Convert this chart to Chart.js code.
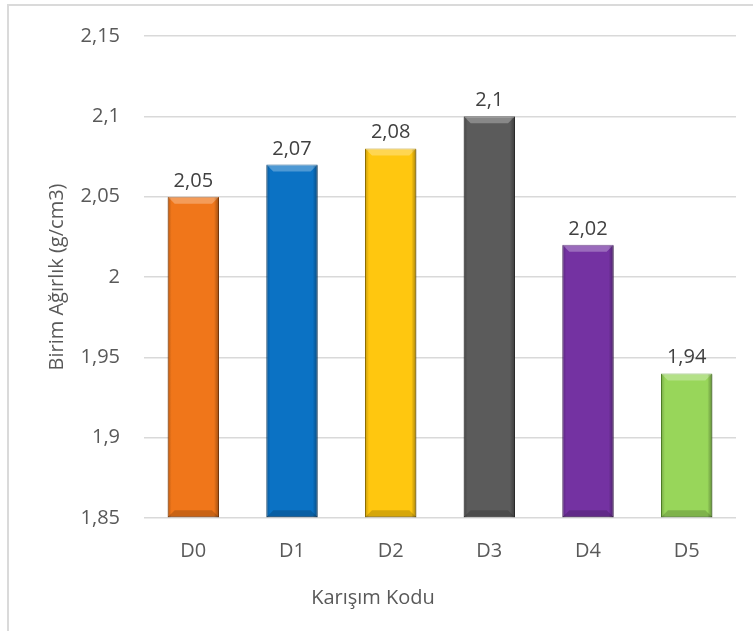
<!DOCTYPE html>
<html>
<head>
<meta charset="utf-8">
<script src="https://cdn.jsdelivr.net/npm/chart.js@4"></script>
<style>
  html, body { margin: 0; padding: 0; background: #fff; overflow: hidden; }
  #frame { position: absolute; left: 7px; top: 4px; width: 800px; height: 700px; border: 2px solid #dadada; }
  #chart { position: absolute; left: 0; top: 0; }
</style>
</head>
<body>
<div id="frame"></div>
<canvas id="chart" width="753" height="631"></canvas>
<script>
// mix codes and unit weights
const codes = ['D0', 'D1', 'D2', 'D3', 'D4', 'D5'];
const weights = [2.05, 2.07, 2.08, 2.10, 2.02, 1.94];
const barColors = ['#F0761A', '#0B72C4', '#FFC70F', '#5B5B5B', '#7432A2', '#98D65A'];
const edgeColors = ['#A84E0C', '#06497F', '#B08700', '#3A3A3A', '#4B1E6B', '#5E9A2C'];
const yMin = 1.85, yMax = 2.15, yStep = 0.05;

const textColor = '#595959';
const fontFamily = "'Open Sans', sans-serif";
const comma = v => Number(v.toFixed(2)).toString().replace('.', ',');

// bevel shading on top of each bar
const bevel = {
  id: 'bevel',
  afterDatasetsDraw(chart) {
    const ctx = chart.ctx;
    chart.getDatasetMeta(0).data.forEach(bar => {
      const l = bar.x - bar.width / 2, r = bar.x + bar.width / 2;
      const t = bar.y, b = Math.min(bar.base, chart.chartArea.bottom), d = 7;
      ctx.save();
      // top face
      ctx.fillStyle = 'rgba(255,255,255,0.28)';
      ctx.beginPath();
      ctx.moveTo(l, t); ctx.lineTo(r, t); ctx.lineTo(r - d, t + d); ctx.lineTo(l + d, t + d);
      ctx.closePath(); ctx.fill();
      // bottom face
      ctx.fillStyle = 'rgba(0,0,0,0.16)';
      ctx.beginPath();
      ctx.moveTo(l, b); ctx.lineTo(r, b); ctx.lineTo(r - d, b - d); ctx.lineTo(l + d, b - d);
      ctx.closePath(); ctx.fill();
      // side faces
      let g = ctx.createLinearGradient(l, 0, l + 4, 0);
      g.addColorStop(0, 'rgba(0,0,0,0.22)'); g.addColorStop(1, 'rgba(0,0,0,0)');
      ctx.fillStyle = g; ctx.fillRect(l, t + 1, 4, b - t - 1);
      g = ctx.createLinearGradient(r, 0, r - 5, 0);
      g.addColorStop(0, 'rgba(0,0,0,0.35)'); g.addColorStop(1, 'rgba(0,0,0,0)');
      ctx.fillStyle = g; ctx.fillRect(r - 5, t + 1, 5, b - t - 1);
      ctx.restore();
    });
  }
};

// value labels above bars
const valueLabels = {
  id: 'valueLabels',
  afterDatasetsDraw(chart) {
    const ctx = chart.ctx;
    ctx.save();
    ctx.font = '20px ' + fontFamily;
    ctx.fillStyle = '#404040';
    ctx.textAlign = 'center';
    ctx.textBaseline = 'alphabetic';
    chart.getDatasetMeta(0).data.forEach((bar, i) => {
      ctx.fillText(comma(weights[i]), bar.x, bar.y - 10);
    });
    ctx.restore();
  }
};

new Chart(document.getElementById('chart'), {
  type: 'bar',
  data: {
    labels: codes,
    datasets: [{
      data: weights,
      base: yMin,
      backgroundColor: barColors,
      borderColor: edgeColors,
      borderWidth: 1,
      borderSkipped: false,
      categoryPercentage: 1,
      barPercentage: 0.52
    }]
  },
  options: {
    responsive: false,
    animation: false,
    layout: { padding: { left: 10, right: 17, top: 33, bottom: 0 } },
    plugins: {
      legend: { display: false },
      tooltip: { enabled: false },
      title: {
        display: true,
        position: 'bottom',
        text: 'Karışım Kodu',
        color: textColor,
        font: { family: fontFamily, size: 20, weight: 'normal' },
        padding: { top: 8, bottom: 21 }
      }
    },
    scales: {
      x: {
        grid: { display: false },
        border: { display: false },
        ticks: { color: textColor, font: { family: fontFamily, size: 20 }, padding: 13 },
        afterFit(scale) { scale.height = 60; }
      },
      y: {
        min: yMin,
        max: yMax,
        grid: { color: '#d9d9d9', lineWidth: 1.5, drawTicks: false },
        border: { display: false },
        ticks: {
          stepSize: yStep,
          color: textColor,
          font: { family: fontFamily, size: 20 },
          padding: 24,
          callback: v => comma(v)
        },
        title: {
          display: true,
          text: 'Birim Ağırlık (g/cm3)',
          color: textColor,
          font: { family: fontFamily, size: 20 },
          padding: { top: 35, bottom: 0 }
        },
        afterFit(scale) { scale.width = 134; }
      }
    }
  },
  plugins: [bevel, valueLabels]
});
</script>
</body>
</html>
